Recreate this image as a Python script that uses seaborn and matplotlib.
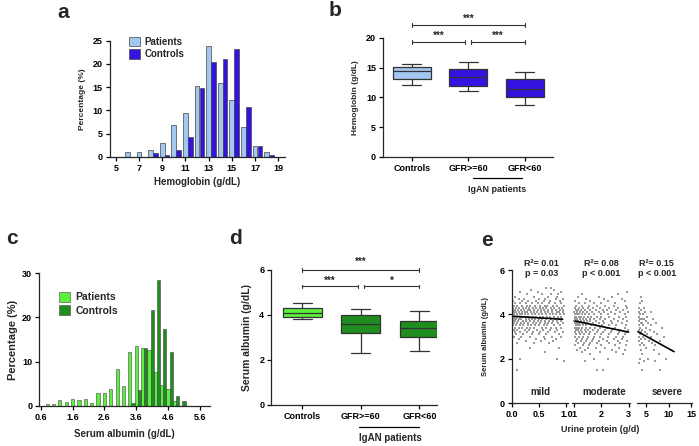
import matplotlib
matplotlib.use('Agg')
import matplotlib.pyplot as plt
import numpy as np
import pandas as pd
import seaborn as sns

# ---- panel a: hemoglobin histogram (% per 1 g/dL bin) ----
hb_bins = [5, 6, 7, 8, 9, 10, 11, 12, 13, 14, 15, 16, 17, 18, 19]
hb_patients = [0, 1.0, 1.1, 1.6, 2.9, 6.8, 9.5, 15.3, 23.8, 15.9, 12.3, 6.4, 2.4, 1.0, 0]
hb_controls = [0, 0, 0, 0.8, 0.5, 1.4, 4.3, 14.9, 20.3, 21.0, 23.2, 10.7, 2.4, 0.4, 0]

# ---- panel b: hemoglobin boxes (min, q1, median, q3, max) ----
box_groups = ['Controls', 'GFR>=60', 'GFR<60']
hb_box_controls = [12.15, 13.05, 14.45, 15.1, 15.7]
hb_box_gfr_high = [11.0, 11.9, 13.4, 14.8, 15.9]
hb_box_gfr_low = [8.7, 10.0, 11.5, 13.05, 14.3]

# ---- panel c: serum albumin histogram (% per 0.2 g/dL bin) ----
alb_bins = [0.8, 1.0, 1.2, 1.4, 1.6, 1.8, 2.0, 2.2, 2.4, 2.6, 2.8, 3.0, 3.2,
            3.4, 3.6, 3.8, 4.0, 4.2, 4.4, 4.6, 4.8, 5.0, 5.2]
alb_patients = [0.5, 0.5, 1.3, 0.8, 1.6, 1.3, 1.6, 0.6, 2.9, 2.9, 3.9, 8.4, 4.5,
                12.2, 13.6, 13.1, 12.7, 7.7, 4.7, 3.8, 1.1, 0, 0]
alb_controls = [0, 0, 0, 0, 0, 0, 0, 0, 0, 0, 0, 0, 0,
                0.6, 3.5, 13.1, 21.7, 28.5, 17.3, 12.1, 2.3, 1.1, 0.1]

# ---- panel d: serum albumin boxes ----
alb_box_controls = [3.81, 3.9, 4.1, 4.3, 4.52]
alb_box_gfr_high = [2.3, 3.19, 3.59, 3.99, 4.28]
alb_box_gfr_low = [2.4, 3.01, 3.41, 3.73, 4.19]

# ---- panel e: albumin vs urine protein, rows of (albumin: protein values) ----
mild_rows = {
    5.2: [0.62, 0.71], 5.1: [0.35, 0.78], 5.0: [0.15, 0.48, 0.9],
    4.9: [0.28, 0.55, 0.72, 0.85], 4.8: [0.05, 0.4, 0.66, 0.82],
    4.7: [0.12, 0.22, 0.5, 0.6, 0.8, 0.93],
    4.6: [0.02, 0.18, 0.3, 0.44, 0.58, 0.7, 0.88],
    4.5: [0.06, 0.14, 0.25, 0.36, 0.47, 0.55, 0.68, 0.79, 0.9],
    4.4: [0.03, 0.1, 0.19, 0.27, 0.33, 0.42, 0.51, 0.6, 0.64, 0.75, 0.83, 0.95],
    4.3: [0.01, 0.08, 0.13, 0.2, 0.26, 0.31, 0.38, 0.45, 0.52, 0.57, 0.63, 0.71, 0.77, 0.86, 0.92],
    4.2: [0.02, 0.05, 0.11, 0.16, 0.22, 0.29, 0.34, 0.4, 0.47, 0.53, 0.59, 0.66, 0.73, 0.8, 0.88, 0.94],
    4.1: [0.03, 0.07, 0.12, 0.18, 0.24, 0.28, 0.35, 0.41, 0.46, 0.54, 0.61, 0.67, 0.74, 0.82, 0.87, 0.93],
    4.0: [0.01, 0.04, 0.09, 0.14, 0.19, 0.23, 0.3, 0.36, 0.43, 0.49, 0.55, 0.62, 0.69, 0.76, 0.81, 0.89, 0.95],
    3.9: [0.02, 0.06, 0.1, 0.15, 0.21, 0.27, 0.32, 0.39, 0.44, 0.51, 0.57, 0.64, 0.7, 0.78, 0.84, 0.91],
    3.8: [0.03, 0.08, 0.13, 0.17, 0.25, 0.31, 0.37, 0.42, 0.5, 0.56, 0.63, 0.72, 0.79, 0.86, 0.92],
    3.7: [0.01, 0.05, 0.11, 0.2, 0.26, 0.33, 0.4, 0.48, 0.53, 0.61, 0.68, 0.75, 0.83, 0.9],
    3.6: [0.04, 0.09, 0.16, 0.22, 0.29, 0.38, 0.45, 0.52, 0.6, 0.67, 0.74, 0.85, 0.93],
    3.5: [0.02, 0.07, 0.14, 0.21, 0.3, 0.35, 0.43, 0.5, 0.58, 0.65, 0.77, 0.88],
    3.4: [0.05, 0.12, 0.18, 0.27, 0.34, 0.41, 0.55, 0.62, 0.71, 0.8, 0.9],
    3.3: [0.03, 0.1, 0.23, 0.31, 0.46, 0.57, 0.69, 0.82],
    3.2: [0.06, 0.15, 0.28, 0.39, 0.52, 0.66, 0.79, 0.94],
    3.1: [0.08, 0.2, 0.37, 0.49, 0.63, 0.86],
    3.0: [0.04, 0.17, 0.33, 0.58, 0.73, 0.91],
    2.9: [0.12, 0.44, 0.61, 0.8], 2.8: [0.25, 0.53, 0.76], 2.7: [0.09, 0.4, 0.68],
    2.5: [0.34, 0.87], 2.3: [0.6], 2.0: [0.14, 0.82], 1.9: [0.95], 1.5: [0.1],
}
moderate_rows = {
    5.0: [2.95], 4.9: [1.3, 2.6], 4.8: [1.15, 1.9, 2.4], 4.7: [1.45, 2.1, 2.75],
    4.6: [1.05, 1.6, 2.25, 2.85], 4.5: [1.2, 1.4, 1.75, 2.0, 2.5],
    4.4: [1.08, 1.3, 1.55, 1.85, 2.15, 2.45, 2.9],
    4.3: [1.03, 1.18, 1.35, 1.5, 1.7, 1.95, 2.3, 2.6, 2.95],
    4.2: [1.06, 1.15, 1.25, 1.4, 1.6, 1.8, 2.05, 2.2, 2.55, 2.8],
    4.1: [1.02, 1.1, 1.22, 1.33, 1.48, 1.65, 1.9, 2.1, 2.35, 2.7, 2.98],
    4.0: [1.04, 1.12, 1.2, 1.3, 1.42, 1.55, 1.72, 1.98, 2.25, 2.5, 2.85],
    3.9: [1.03, 1.09, 1.17, 1.27, 1.38, 1.5, 1.62, 1.85, 2.0, 2.3, 2.65, 2.92],
    3.8: [1.05, 1.13, 1.21, 1.32, 1.44, 1.58, 1.75, 1.95, 2.15, 2.45, 2.8],
    3.7: [1.02, 1.08, 1.16, 1.25, 1.36, 1.47, 1.6, 1.8, 2.05, 2.35, 2.6, 2.95],
    3.6: [1.04, 1.11, 1.19, 1.28, 1.4, 1.53, 1.7, 1.9, 2.1, 2.4, 2.75],
    3.5: [1.06, 1.14, 1.23, 1.34, 1.46, 1.63, 1.82, 2.02, 2.28, 2.55, 2.9],
    3.4: [1.03, 1.1, 1.2, 1.31, 1.43, 1.57, 1.77, 1.97, 2.2, 2.5, 2.85],
    3.3: [1.07, 1.15, 1.26, 1.39, 1.52, 1.68, 1.88, 2.12, 2.4, 2.7, 2.97],
    3.2: [1.05, 1.18, 1.29, 1.45, 1.6, 1.85, 2.08, 2.35, 2.65, 2.9],
    3.1: [1.09, 1.24, 1.37, 1.55, 1.78, 2.0, 2.3, 2.6, 2.88],
    3.0: [1.04, 1.2, 1.35, 1.5, 1.72, 1.95, 2.25, 2.55, 2.8],
    2.9: [1.12, 1.3, 1.48, 1.7, 2.05, 2.45, 2.75],
    2.8: [1.08, 1.26, 1.45, 1.65, 1.92, 2.2, 2.6, 2.95],
    2.7: [1.15, 1.38, 1.6, 1.85, 2.3, 2.7],
    2.6: [1.05, 1.32, 1.55, 2.0, 2.5, 2.9],
    2.5: [1.22, 1.5, 1.8, 2.15, 2.65], 2.4: [1.1, 1.42, 2.4, 2.85],
    2.3: [1.3, 1.95, 2.55], 2.2: [1.6, 2.8], 2.0: [1.75, 2.25], 1.9: [1.4], 1.5: [1.85, 2.05],
}
severe_rows = {
    4.8: [3.8], 4.6: [4.1], 4.5: [3.6], 4.3: [3.5, 4.5], 4.2: [3.9],
    4.1: [3.4, 4.8, 6.0], 4.0: [3.7, 4.3], 3.9: [3.5, 5.2], 3.8: [3.6, 4.0, 4.6, 6.5],
    3.7: [3.4, 5.0], 3.6: [3.8, 4.2, 5.5, 7.2], 3.5: [3.5, 4.4, 6.2], 3.4: [3.7, 4.9, 8.5],
    3.3: [3.4, 4.1, 5.8], 3.2: [3.9, 4.7, 6.8], 3.1: [3.6, 5.3, 7.5],
    3.0: [3.5, 4.3, 6.0, 9.0], 2.9: [3.8, 4.8], 2.8: [3.4, 5.6, 8.0], 2.7: [4.0, 6.4],
    2.6: [3.6, 4.5, 7.0], 2.5: [5.0], 2.4: [3.9, 6.8, 10.5], 2.2: [4.2, 7.8],
    2.0: [3.7, 5.5, 9.5], 1.9: [4.6, 7.0], 1.8: [3.5], 1.5: [4.0, 8.2],
}
mild_fit_x, mild_fit_y = [0.0, 0.93], [3.92, 3.78]
moderate_fit_x, moderate_fit_y = [1.05, 3.0], [3.7, 3.2]
severe_fit_x, severe_fit_y = [3.2, 11.2], [3.22, 2.32]
seg_stats = ['R\u00b2= 0.01\np = 0.03', 'R\u00b2= 0.08\np < 0.001', 'R\u00b2= 0.15\np < 0.001']
seg_names = ['mild', 'moderate', 'severe']

sns.set_style('ticks')
plt.rcParams['font.family'] = ['Liberation Sans', 'DejaVu Sans']
plt.rcParams['font.weight'] = 'bold'
plt.rcParams['axes.labelweight'] = 'bold'
plt.rcParams['axes.linewidth'] = 0.9
plt.rcParams['xtick.major.size'] = 3
plt.rcParams['ytick.major.size'] = 3
plt.rcParams['xtick.major.width'] = 0.9
plt.rcParams['ytick.major.width'] = 0.9
plt.rcParams['xtick.major.pad'] = 2
plt.rcParams['ytick.major.pad'] = 2

FS = 6.5
LIGHT_BLUE, BLUE = '#a2c8f2', '#3412e0'
LIGHT_GREEN, GREEN = '#5cf03e', '#1f8d1f'
EDGE = '#444444'

fig = plt.figure(figsize=(6.99, 4.46), dpi=100)


def style(ax):
    sns.despine(ax=ax)
    ax.tick_params(labelsize=FS, colors='black')
    for lab in ax.get_xticklabels() + ax.get_yticklabels():
        lab.set_fontweight('bold')


def bracket(ax, x1, x2, y, cap, text, ty):
    ax.plot([x1, x2], [y, y], color='#333333', lw=0.8, clip_on=False)
    for x in (x1, x2):
        ax.plot([x, x], [y - cap, y + cap], color='#333333', lw=0.8, clip_on=False)
    ax.text((x1 + x2) / 2, ty, text, ha='center', va='center', fontsize=7, clip_on=False)


# ---------- a ----------
ax = fig.add_axes([0.157, 0.648, 0.251, 0.261])
sns.barplot(x=np.array(hb_bins, float), y=hb_patients, native_scale=True, width=0.4,
            color=LIGHT_BLUE, saturation=1, edgecolor=EDGE, linewidth=0.5, errorbar=None,
            label='Patients', ax=ax)
sns.barplot(x=np.array(hb_bins, float) + 0.42, y=hb_controls, native_scale=True, width=0.4,
            color=BLUE, saturation=1, edgecolor=EDGE, linewidth=0.5, errorbar=None,
            label='Controls', ax=ax)
ax.set_xlim(4.48, 19.6)
ax.set_ylim(0, 25)
ax.set_xticks([5, 7, 9, 11, 13, 15, 17, 19])
ax.set_yticks([0, 5, 10, 15, 20, 25])
ax.set_xlabel('Hemoglobin (g/dL)', fontsize=FS + 0.5, labelpad=3)
ax.set_ylabel('Percentage (%)', fontsize=FS - 0.5, labelpad=5)
ax.legend(loc='upper left', bbox_to_anchor=(0.06, 1.11), frameon=False, fontsize=FS + 0.5,
          handlelength=1.1, handleheight=1.1, handletextpad=0.5, labelspacing=0.3)
style(ax)

# ---------- b ----------
ax = fig.add_axes([0.548, 0.648, 0.243, 0.267])
hb_box_df = pd.DataFrame({
    'group': np.repeat(box_groups, 5),
    'value': hb_box_controls + hb_box_gfr_high + hb_box_gfr_low,
})
sns.boxplot(data=hb_box_df, x='group', y='value', hue='group', order=box_groups,
            palette=[LIGHT_BLUE, BLUE, BLUE], saturation=1, whis=(0, 100), width=0.68,
            linecolor='#333333', linewidth=0.9, legend=False, ax=ax)
ax.set_xlim(-0.51, 2.5)
ax.set_ylim(0, 20)
ax.set_yticks([0, 5, 10, 15, 20])
ax.set_xlabel('')
ax.set_ylabel('Hemoglobin (g/dL)', fontsize=FS - 0.5, labelpad=5)
bracket(ax, 0, 2, 22.1, 0.35, '***', 23.2)
bracket(ax, 0, 0.95, 19.3, 0.35, '***', 20.3)
bracket(ax, 1.05, 2, 19.3, 0.35, '***', 20.3)
ax.plot([1.08, 1.96], [-0.176, -0.176], color='black', lw=0.9,
        transform=ax.get_xaxis_transform(), clip_on=False)
ax.text(1.52, -0.27, 'IgAN patients', ha='center', va='center', fontsize=FS,
        transform=ax.get_xaxis_transform())
style(ax)

# ---------- c ----------
ax = fig.add_axes([0.056, 0.0897, 0.244, 0.298])
sns.barplot(x=np.array(alb_bins), y=alb_patients, native_scale=True, width=0.5,
            color=LIGHT_GREEN, saturation=1, edgecolor=EDGE, linewidth=0.4, errorbar=None,
            label='Patients', ax=ax)
sns.barplot(x=np.array(alb_bins) + 0.1, y=alb_controls, native_scale=True, width=0.5,
            color=GREEN, saturation=1, edgecolor=EDGE, linewidth=0.4, errorbar=None,
            label='Controls', ax=ax)
ax.set_xlim(0.55, 5.91)
ax.set_ylim(0, 30)
ax.set_xticks([0.6, 1.6, 2.6, 3.6, 4.6, 5.6])
ax.set_yticks([0, 10, 20, 30])
ax.set_xlabel('Serum albumin (g/dL)', fontsize=FS + 0.5, labelpad=5)
ax.set_ylabel('Percentage (%)', fontsize=FS + 1.5, labelpad=3)
ax.legend(loc='upper left', bbox_to_anchor=(0.06, 0.93), frameon=False, fontsize=FS + 1,
          handlelength=1.1, handleheight=1.1, handletextpad=0.5, labelspacing=0.3)
style(ax)

# ---------- d ----------
ax = fig.add_axes([0.388, 0.092, 0.237, 0.303])
alb_box_df = pd.DataFrame({
    'group': np.repeat(box_groups, 5),
    'value': alb_box_controls + alb_box_gfr_high + alb_box_gfr_low,
})
sns.boxplot(data=alb_box_df, x='group', y='value', hue='group', order=box_groups,
            palette=[LIGHT_GREEN, GREEN, GREEN], saturation=1, whis=(0, 100), width=0.66,
            linecolor='#333333', linewidth=0.9, legend=False, ax=ax)
ax.set_xlim(-0.53, 2.3)
ax.set_ylim(0, 6)
ax.set_yticks([0, 2, 4, 6])
ax.set_xlabel('')
ax.set_ylabel('Serum albumin (g/dL)', fontsize=FS + 1, labelpad=5)
bracket(ax, 0, 2, 6.0, 0.08, '***', 6.34)
bracket(ax, 0, 0.95, 5.26, 0.08, '***', 5.53)
bracket(ax, 1.05, 2, 5.26, 0.08, '*', 5.53)
ax.plot([0.97, 2.0], [-0.163, -0.163], color='black', lw=0.9,
        transform=ax.get_xaxis_transform(), clip_on=False)
ax.text(1.5, -0.245, 'IgAN patients', ha='center', va='center', fontsize=FS + 0.5,
        transform=ax.get_xaxis_transform())
style(ax)

# ---------- e (broken x axis) ----------
seg_specs = [
    (mild_rows, mild_fit_x, mild_fit_y, [0.7325, 0.0801], (0, 1.03), [0, 0.5, 1.0], ['0.0', '0.5', '1.0'], 0.55, 0.52),
    (moderate_rows, moderate_fit_x, moderate_fit_y, [0.8183, 0.0830], (0.93, 3.05), [1, 2, 3], ['1', '2', '3'], 2.0, 2.1),
    (severe_rows, severe_fit_x, severe_fit_y, [0.9113, 0.0787], (3.0, 15.2), [5, 10, 15], ['5', '10', '15'], 7.4, 9.7),
]
for i, (rows, fx, fy, (left, width), xlim, ticks, labels, tx, nx) in enumerate(seg_specs):
    ax = fig.add_axes([left, 0.0964, width, 0.298])
    pts = pd.DataFrame([(x, y) for y, xs in rows.items() for x in xs], columns=['protein', 'albumin'])
    sns.scatterplot(data=pts, x='protein', y='albumin', s=1.6, marker='s', color='#9a9a9a',
                    linewidth=0, ax=ax)
    sns.lineplot(x=fx, y=fy, color='black', linewidth=1.2, ax=ax)
    ax.set_xlim(*xlim)
    ax.set_ylim(0, 6)
    ax.set_xticks(ticks)
    ax.set_xticklabels(labels)
    ax.set_xlabel('')
    ax.text(tx, 6.08, seg_stats[i], ha='center', va='center', fontsize=FS,
            linespacing=1.1, clip_on=False)
    ax.text(nx, 0.5, seg_names[i], ha='center', va='center', fontsize=FS + 0.5)
    if i == 0:
        ax.set_yticks([0, 2, 4, 6])
        ax.set_ylabel('Serum albumin (g/dL)', fontsize=FS - 1, labelpad=8)
        sns.despine(ax=ax)
    else:
        ax.set_yticks([])
        ax.set_ylabel('')
        sns.despine(ax=ax, left=True)
    ax.tick_params(labelsize=FS, colors='black')
    for lab in ax.get_xticklabels() + ax.get_yticklabels():
        lab.set_fontweight('bold')

fig.text(600 / 699, 1 - 430 / 446, 'Urine protein (g/d)', ha='center', va='center', fontsize=FS)

# panel letters
for letter, px, py in [('a', 63, 12), ('b', 335, 11), ('c', 12, 239), ('d', 236, 239), ('e', 487, 240)]:
    fig.text(px / 699, 1 - py / 446, letter, ha='center', va='center', fontsize=15, fontweight='bold')

fig.savefig('out.png', dpi=100)
